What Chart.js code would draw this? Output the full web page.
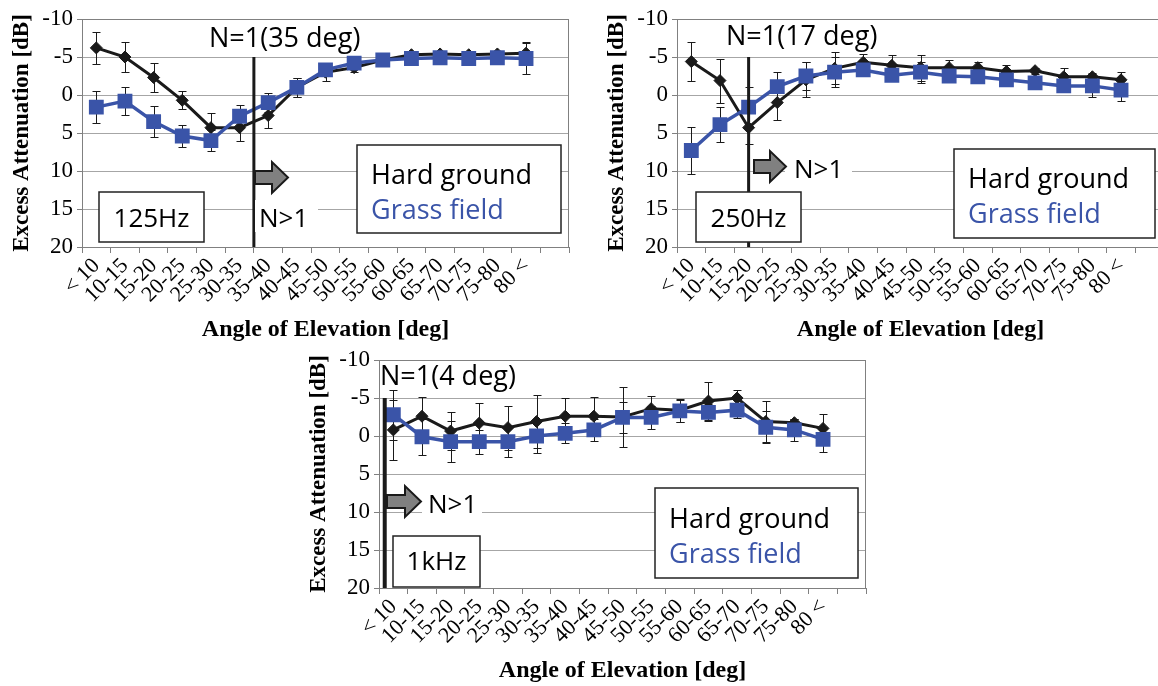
<!DOCTYPE html>
<html>
<head>
<meta charset="utf-8">
<script src="https://cdn.jsdelivr.net/npm/chart.js@4.4.0/dist/chart.umd.min.js"></script>
<style>
  html, body { margin: 0; padding: 0; background: #fff; overflow: hidden; width: 1158px; height: 686px; }
  canvas { position: absolute; }
</style>
</head>
<body>
<canvas id="c125" width="580" height="345" style="left:0px;top:0px"></canvas>
<canvas id="c250" width="580" height="345" style="left:595px;top:0px"></canvas>
<canvas id="c1k" width="580" height="345" style="left:297px;top:341px"></canvas>
<script>
const angleLabels = ['< 10', '10-15', '15-20', '20-25', '25-30', '30-35', '35-40', '40-45',
  '45-50', '50-55', '55-60', '60-65', '65-70', '70-75', '75-80', '80 <', ''];

// 125 Hz
const hard125 = [-6.2, -5.0, -2.3, 0.7, 4.3, 4.3, 2.7, -1.0, -3.0, -3.6, -4.6, -5.3, -5.4, -5.3, -5.4, -5.5];
const hard125Err = [2.1, 2.0, 1.9, 1.2, 1.9, 1.7, 1.7, 1.3, 1.1, 0.6, 0.3, 0.3, 0.3, 0.3, 0.3, 1.5];
const grass125 = [1.6, 0.8, 3.5, 5.4, 6.0, 2.8, 1.0, -1.0, -3.3, -4.2, -4.6, -4.8, -4.9, -4.8, -4.9, -4.8];
const grass125Err = [2.1, 1.8, 2.0, 1.4, 1.4, 1.5, 1.3, 1.2, 0.8, 0.6, 0.3, 0.3, 0.3, 0.3, 0.3, 2.1];

// 250 Hz
const hard250 = [-4.4, -1.9, 4.3, 1.0, -2.0, -3.5, -4.3, -3.9, -3.6, -3.6, -3.6, -3.1, -3.2, -2.4, -2.4, -2.0];
const hard250Err = [2.6, 2.9, 2.1, 2.3, 2.3, 2.1, 1.1, 1.4, 1.7, 1.0, 0.7, 0.9, 0.4, 1.1, 0.5, 1.0];
const grass250 = [7.3, 3.9, 1.6, -1.1, -2.5, -3.0, -3.3, -2.6, -3.0, -2.5, -2.4, -2.0, -1.6, -1.2, -1.2, -0.65];
const grass250Err = [3.1, 2.3, 2.6, 1.9, 1.8, 2.0, 0.6, 0.7, 1.4, 0.6, 0.5, 0.7, 0.4, 0.6, 1.5, 1.4];

// 1 kHz
const hard1k = [-0.8, -2.6, -0.65, -1.7, -1.1, -1.9, -2.6, -2.6, -2.5, -3.6, -3.4, -4.6, -5.0, -1.9, -1.75, -1.0];
const hard1kErr = [4.0, 2.5, 2.5, 2.7, 2.9, 3.5, 2.4, 2.5, 4.0, 1.7, 1.5, 2.5, 1.0, 2.7, 0.5, 1.9];
const grass1k = [-2.8, 0.1, 0.75, 0.75, 0.75, 0, -0.35, -0.8, -2.45, -2.45, -3.3, -3.1, -3.4, -1.15, -0.8, 0.45];
const grass1kErr = [3.3, 2.4, 2.7, 1.6, 2.0, 2.2, 1.3, 1.5, 2.0, 1.5, 1.4, 1.1, 1.0, 2.1, 1.5, 1.6];

const yMin = -10, yMax = 20, yStep = 5;

const BLUE = '#3a54a8';
const BLACK = '#1a1a1a';
const SANS = '"Open Sans", "Noto Sans", sans-serif';
const SERIF = '"Liberation Serif", "DejaVu Serif", serif';

// error bars are drawn under the markers
const errorBars = {
  id: 'errorBars',
  beforeDatasetsDraw(chart) {
    const { ctx, scales: { x, y } } = chart;
    ctx.save();
    ctx.strokeStyle = BLACK;
    ctx.lineWidth = 1;
    chart.data.datasets.forEach(ds => {
      ds.data.forEach((v, i) => {
        const e = ds.errors[i];
        if (v == null || !e) return;
        const px = Math.round(x.getPixelForValue(i)) + 0.5;
        const y1 = Math.round(y.getPixelForValue(v - e)) + 0.5;
        const y2 = Math.round(y.getPixelForValue(v + e)) + 0.5;
        ctx.beginPath();
        ctx.moveTo(px, y1); ctx.lineTo(px, y2);
        ctx.moveTo(px - 4, y1); ctx.lineTo(px + 4, y1);
        ctx.moveTo(px - 4, y2); ctx.lineTo(px + 4, y2);
        ctx.stroke();
      });
    });
    ctx.restore();
  }
};

function arrow(ctx, x0, x1, yc) {
  const hx = x1 - 16;
  ctx.beginPath();
  ctx.moveTo(x0, yc - 6.5);
  ctx.lineTo(hx, yc - 6.5);
  ctx.lineTo(hx, yc - 15.5);
  ctx.lineTo(x1, yc);
  ctx.lineTo(hx, yc + 15.5);
  ctx.lineTo(hx, yc + 6.5);
  ctx.lineTo(x0, yc + 6.5);
  ctx.closePath();
  ctx.fillStyle = '#808080';
  ctx.fill();
  ctx.strokeStyle = BLACK;
  ctx.lineWidth = 2;
  ctx.stroke();
}

function makeChart(id, hard, hardErr, grass, grassErr, n) {
  const notes = {
    id: 'notes',
    afterDatasetsDraw(chart) {
      const { ctx, chartArea: a, scales: { x, y } } = chart;
      ctx.save();
      // plot frame
      ctx.strokeStyle = '#808080';
      ctx.lineWidth = 1;
      ctx.strokeRect(a.left + 0.5, a.top + 0.5, a.right - a.left - 1, a.bottom - a.top);

      // N=1 line
      const lx = x.getPixelForValue(n.lineAt);
      ctx.strokeStyle = BLACK;
      ctx.lineWidth = n.lineWidth;
      ctx.beginPath();
      ctx.moveTo(lx, y.getPixelForValue(-5));
      ctx.lineTo(lx, y.getPixelForValue(20));
      ctx.stroke();

      ctx.font = '27px ' + SANS;
      ctx.textBaseline = 'alphabetic';
      ctx.textAlign = 'left';
      ctx.fillStyle = '#000';
      ctx.fillText(n.title, n.titleX, n.titleY);

      // N>1 label with white backing over the grid
      ctx.font = '26px ' + SANS;
      ctx.fillStyle = '#fff';
      ctx.fillRect(n.gtBg[0], n.gtBg[1], n.gtBg[2], n.gtBg[3]);
      ctx.fillStyle = '#000';
      ctx.fillText('N>1', n.gtX, n.gtY);
      arrow(ctx, n.arrow[0], n.arrow[1], n.arrow[2]);

      // frequency box
      const f = n.freqBox;
      ctx.fillStyle = '#fff';
      ctx.fillRect(f[0], f[1], f[2], f[3]);
      ctx.strokeStyle = '#222';
      ctx.lineWidth = 1.5;
      ctx.strokeRect(f[0], f[1], f[2], f[3]);
      ctx.fillStyle = '#000';
      ctx.textAlign = 'center';
      ctx.fillText(n.freq, f[0] + f[2] / 2, n.freqY);

      // legend box
      const l = n.legBox;
      ctx.font = '27px ' + SANS;
      ctx.fillStyle = '#fff';
      ctx.fillRect(l[0], l[1], l[2], l[3]);
      ctx.strokeStyle = '#222';
      ctx.lineWidth = 1.5;
      ctx.strokeRect(l[0], l[1], l[2], l[3]);
      ctx.textAlign = 'left';
      ctx.fillStyle = '#000';
      ctx.fillText('Hard ground', n.legX, n.legY);
      ctx.fillStyle = BLUE;
      ctx.fillText('Grass field', n.legX, n.legY + 35);
      ctx.restore();
    }
  };

  return new Chart(document.getElementById(id), {
    type: 'line',
    data: {
      labels: angleLabels,
      datasets: [
        {
          label: 'Hard ground',
          data: hard,
          errors: hardErr,
          order: 2,
          borderColor: BLACK,
          backgroundColor: BLACK,
          borderWidth: 3,
          pointStyle: 'rectRot',
          pointRadius: 6,
          pointBorderWidth: 1,
          tension: 0
        },
        {
          label: 'Grass field',
          data: grass,
          errors: grassErr,
          order: 1,
          borderColor: BLUE,
          backgroundColor: BLUE,
          borderWidth: 3.5,
          pointStyle: 'rect',
          pointRadius: 10.5,
          pointBorderWidth: 0,
          tension: 0
        }
      ]
    },
    options: {
      responsive: false,
      animation: false,
      devicePixelRatio: 1,
      layout: { padding: { top: 19, right: 11, left: 0, bottom: 0 } },
      plugins: { legend: { display: false }, tooltip: { enabled: false } },
      scales: {
        x: {
          type: 'category',
          offset: true,
          afterFit: s => { s.height = 98; },
          grid: { offset: true, drawOnChartArea: false, tickLength: 6, color: '#808080' },
          border: { color: '#808080' },
          ticks: {
            autoSkip: false, minRotation: 45, maxRotation: 45, padding: 0,
            color: '#000', font: { family: SERIF, size: 22 }
          },
          title: {
            display: true, text: 'Angle of Elevation [deg]', color: '#000',
            font: { family: SERIF, size: 24, weight: 'bold' }, padding: { top: 0, bottom: 1 }
          }
        },
        y: {
          min: yMin, max: yMax, reverse: true,
          afterFit: s => { s.width = 82; },
          grid: { color: '#a6a6a6', tickLength: 5, tickColor: '#808080' },
          border: { color: '#808080' },
          ticks: {
            stepSize: yStep, padding: 4, color: '#000',
            font: { family: SERIF, size: 23 }
          },
          title: {
            display: true, text: 'Excess Attenuation [dB]', color: '#000',
            font: { family: SERIF, size: 23, weight: 'bold' }, padding: { top: 8, bottom: 0 }
          }
        }
      }
    },
    plugins: [errorBars, notes]
  });
}

makeChart('c125', hard125, hard125Err, grass125, grass125Err, {
  lineAt: 5.5, lineWidth: 3,
  title: 'N=1(35 deg)', titleX: 209, titleY: 47,
  gtX: 259, gtY: 227, gtBg: [255, 200, 63, 32],
  arrow: [255, 288, 177.5],
  freq: '125Hz', freqBox: [99, 192, 105, 50], freqY: 227,
  legBox: [357, 145, 204, 88], legX: 371, legY: 184
});

makeChart('c250', hard250, hard250Err, grass250, grass250Err, {
  lineAt: 2, lineWidth: 3,
  title: 'N=1(17 deg)', titleX: 131, titleY: 45,
  gtX: 199, gtY: 178, gtBg: [190, 158, 67, 28],
  arrow: [159, 191, 166.5],
  freq: '250Hz', freqBox: [101, 192, 105, 50], freqY: 227,
  legBox: [359, 149, 201, 89], legX: 373, legY: 188
});

makeChart('c1k', hard1k, hard1kErr, grass1k, grass1kErr, {
  lineAt: -0.3, lineWidth: 4,
  title: 'N=1(4 deg)', titleX: 83, titleY: 44,
  gtX: 131, gtY: 172, gtBg: [125, 150, 60, 30],
  arrow: [90, 124, 160.5],
  freq: '1kHz', freqBox: [96, 195, 87, 51], freqY: 229,
  legBox: [358, 147, 203, 90], legX: 372, legY: 187
});
</script>
</body>
</html>
